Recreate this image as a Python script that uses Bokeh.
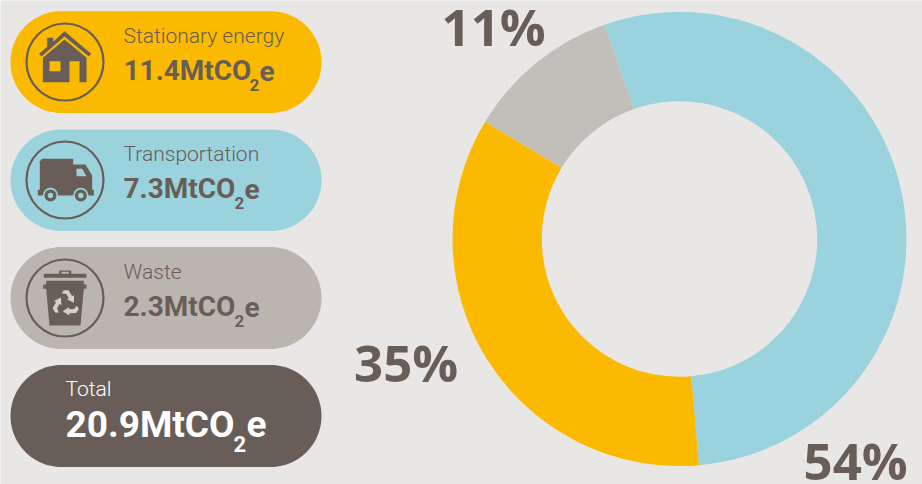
import numpy as np
from bokeh.plotting import figure
from bokeh.models import Range1d
from bokeh.core.properties import value
from bokeh.embed import file_html
from bokeh.resources import INLINE

categories = ["Stationary energy", "Transportation", "Waste"]
emissions = [11.4, 7.3, 2.3]
total_label = "Total"
total_emission = 20.9
unit = "MtCO"
share_names = ["Transportation", "Stationary energy", "Waste"]
share_values = [54, 35, 11]

BG, YELLOW, BLUE, GREY, DARK = "#E8E7E5", "#FBBA00", "#9AD2DD", "#BBB5B0", "#685E57"
DONUT_GREY = "#C2BFBA"
FONT = value("Open Sans")
NAME_FONT = value("Roboto Light")
VAL_FONT = value("Roboto")
H = 484
K = 0.39  # the svg text sits this fraction of its size below the asked baseline

p = figure(width=922, height=484, output_backend="svg", toolbar_location=None,
           x_range=Range1d(0, 922), y_range=Range1d(0, 484), min_border=0,
           background_fill_color=BG, border_fill_color=BG, outline_line_color=None)
p.axis.visible = False
p.grid.visible = False


def pill(x0, x1, y0, y1, color):
    r = (y1 - y0) / 2
    t = np.linspace(-np.pi / 2, np.pi / 2, 60)
    xs = np.r_[x1 - r + r * np.cos(t), x0 + r - r * np.cos(t)[::-1] * 1]
    ys = np.r_[y0 + r + r * np.sin(t), y0 + r - r * np.sin(t)]
    p.patch(xs, H - ys, fill_color=color, line_color=None)


def zoomed(pts, oy=0):
    a = np.array(pts, float) / 3
    return a[:, 0], H - (a[:, 1] + oy)


def shape(pts, color, oy=0):
    x, y = zoomed(pts, oy)
    p.patch(x, y, fill_color=color, line_color=None)


def txt(x, y, s, font, size, color, bold=False):
    p.text([x], [H - y + K * size], text=[s], text_font=font, text_font_size=f"{size}px",
           text_font_style="bold" if bold else "normal", text_color=color,
           text_baseline="alphabetic", text_align="left")


def label_block(name, val, x, y_name, y_val, y_sub, x_sub, x_e, color, name_size, val_size, sub_size):
    txt(x, y_name, name, NAME_FONT, name_size, color)
    txt(x, y_val, f"{val}{unit}", VAL_FONT, val_size, color, True)
    txt(x_sub, y_sub, "2", VAL_FONT, sub_size, color, True)
    txt(x_e, y_val, "e", VAL_FONT, val_size, color, True)


# pills
pill(10, 321, 10.7, 112.5, YELLOW)
pill(10, 321, 129, 230.5, BLUE)
pill(10, 321, 246.5, 348.5, GREY)
pill(10, 321, 364.5, 466.5, DARK)

# icon rings
for cy in (61.5, 179.5, 297.5):
    p.circle([64.5], [H - cy], radius=38.5, fill_color=None, line_color=DARK, line_width=2.2)

# house
shape([(116, 160), (140, 139), (140, 112), (158, 112), (158, 124), (192, 92), (272, 160), (265, 168), (192, 108), (123, 168)], DARK)
shape([(127, 172), (192, 117), (258, 172), (258, 245), (237, 245), (237, 182), (207, 182), (207, 245), (127, 245)], DARK)
shape([(147, 182), (180, 182), (180, 212), (147, 212)], YELLOW)

# truck
shape([(118, 482), (125, 475), (218, 475), (218, 492), (255, 492), (275, 525), (275, 568), (280, 568), (280, 585), (112, 585), (112, 568), (118, 568)], DARK)
shape([(228, 505), (245, 505), (258, 527), (228, 527)], BLUE)
for wx in (150, 241):
    p.circle([wx / 3], [H - 585 / 3], radius=23 / 3, fill_color=BLUE, line_color=None)
    p.circle([wx / 3], [H - 585 / 3], radius=18 / 3, fill_color=DARK, line_color=None)
    p.circle([wx / 3], [H - 585 / 3], radius=8 / 3, fill_color=BLUE, line_color=None)

# bin
OY = 240
shape([(176, 90), (212, 90), (212, 100), (258, 100), (258, 112), (130, 112), (130, 100), (176, 100)], DARK, OY)
shape([(183, 94), (205, 94), (205, 100), (183, 100)], GREY, OY)
shape([(137, 121), (250, 121), (250, 132), (258, 132), (258, 145), (250, 145), (240, 255), (147, 255), (137, 145), (128, 145), (128, 132), (137, 132)], DARK, OY)
arrow = np.array([(-12, -32), (-6, -41), (8, -41), (19, -23), (25, -26.5), (24, -3), (3, -13.5), (9, -17), (1, -30), (-5, -30)], float)
for k in range(3):
    a = k * 2 * np.pi / 3
    R = np.array([[np.cos(a), -np.sin(a)], [np.sin(a), np.cos(a)]])
    pts = arrow @ R.T + np.array([196, 190])
    shape(pts, "#D3CFCB", OY)

# text blocks
label_block(categories[0], emissions[0], 123, 44, 81, 90.7, 249, 259, DARK, 21, 28, 17)
label_block(categories[1], emissions[1], 123, 162, 199, 209, 234, 244, DARK, 21, 28, 17)
label_block(categories[2], emissions[2], 123, 280, 317, 327, 234, 244, DARK, 21, 28, 17)
label_block(total_label, total_emission, 65, 397, 438, 452, 233, 246, "#FFFFFF", 21, 37, 22)

# donut
cx, cy = 679, H - 238.5
start = np.pi / 2 + np.deg2rad(19.3)
fracs = np.array(share_values) / sum(share_values)
edges = start - np.r_[0, np.cumsum(fracs)] * 2 * np.pi
p.annular_wedge([cx] * 3, [cy] * 3, inner_radius=137.7, outer_radius=227,
                start_angle=edges[1:], end_angle=edges[:-1],
                fill_color=[BLUE, YELLOW, DONUT_GREY], line_color=None)

# share labels (order: 54, 35, 11)
for v, x, y in zip(share_values, (803, 353.5, 441), (479, 381, 45)):
    txt(x, y, f"{v}%", FONT, 51, DARK, True)

open("out.html", "w").write(file_html(p, INLINE))
